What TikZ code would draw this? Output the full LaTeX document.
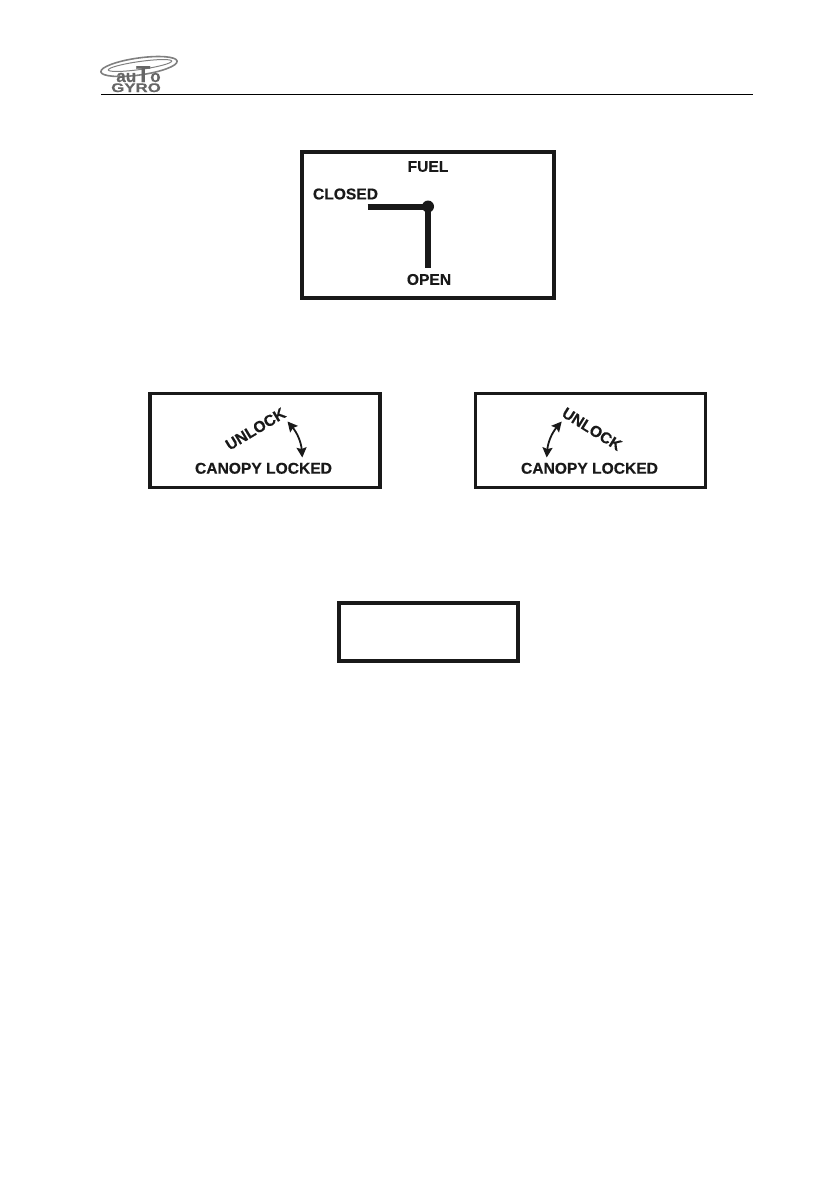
\documentclass[tikz,border=0pt]{standalone}
\usepackage{fontspec}
\setmainfont[BoldFeatures={FakeBold=0.35}]{Liberation Sans}
\usepackage{tikz}
\usetikzlibrary{shapes,arrows.meta,positioning}

\begin{document}
\begin{tikzpicture}[
    x=1pt, y=-1pt,
    placard/.style={rectangle, draw=black!90, line width=3.2pt, inner sep=0pt, outer sep=0pt},
    marking/.style={inner sep=0pt, font=\fontsize{15.6}{18}\selectfont\bfseries, text=black!90},
    lever/.style={line width=6pt, draw=black!90},
    swing/.style={{Stealth[length=10pt,width=10pt,inset=1.5pt]}-{Stealth[length=10pt,width=10pt,inset=1.5pt]}, line width=1.8pt, draw=black!90},
    ring/.style={ellipse, draw=black!50, line width=1.6pt, rotate=8, inner sep=0pt},
    logotext/.style={inner sep=0pt, text=black!60, font=\fontsize{17}{18}\selectfont\bfseries}
]
    \useasboundingbox (0,0) rectangle (839,1191);

    % header
    \node[ring, minimum width=77pt, minimum height=17pt] (ringa) at (139,66.5) {};
    \node[ring, minimum width=64pt, minimum height=8pt, line width=1pt] (ringb) at (140,65.5) {};
    \node[logotext, anchor=base] (auto) at (138.5,82) {au{\fontsize{23}{24}\selectfont T}o};
    \node[logotext, font=\fontsize{12.5}{14}\selectfont\bfseries, xscale=1.35, anchor=base] (gyro) at (136,92) {GYRO};
    \coordinate (rulel) at (101,94.5);
    \coordinate (ruler) at (753,94.5);
    \draw[line width=1pt] (rulel) -- (ruler);

    % fuel
    \node[placard, minimum width=252pt, minimum height=146pt] (fuel) at (428,225) {};
    \node[marking] (fueltxt) at (428,166.5) {FUEL};
    \node[marking] (closed) at (345.5,194) {CLOSED};
    \node[marking] (open) at (429,279.5) {OPEN};
    \coordinate (pivot) at (428,206.5);
    \coordinate (leverl) at (367.5,206.5);
    \coordinate (leverb) at (428,267.5);
    \draw[lever] (leverl) -- (pivot) -- (leverb);
    \fill[black!90] (pivot) circle (6pt);

    % canopy
    \node[placard, minimum width=230pt, minimum height=94.5pt] (canopyl) at (265,440.5) {};
    \node[placard, minimum width=230pt, minimum height=94.5pt, right=95.5pt of canopyl] (canopyr) {};

    \node[marking] (lockedl) at (263.5,468.3) {CANOPY LOCKED};
    \node[marking, rotate=31] (unlockl) at (255.5,429) {UNLOCK};
    \coordinate (swingla) at (287.5,421.5);
    \coordinate (swinglb) at (302.3,457.5);
    \draw[swing] (swingla) to[bend left=18] (swinglb);

    \node[marking] (lockedr) at (589.5,468.3) {CANOPY LOCKED};
    \node[marking, rotate=-32] (unlockr) at (592,429) {UNLOCK};
    \coordinate (swingra) at (561.7,421.5);
    \coordinate (swingrb) at (546.7,457.5);
    \draw[swing] (swingra) to[bend right=18] (swingrb);

    % empty placard
    \node[placard, line width=3.8pt, minimum width=179pt, minimum height=58pt] (blank) at (428.5,632) {};
\end{tikzpicture}
\end{document}
